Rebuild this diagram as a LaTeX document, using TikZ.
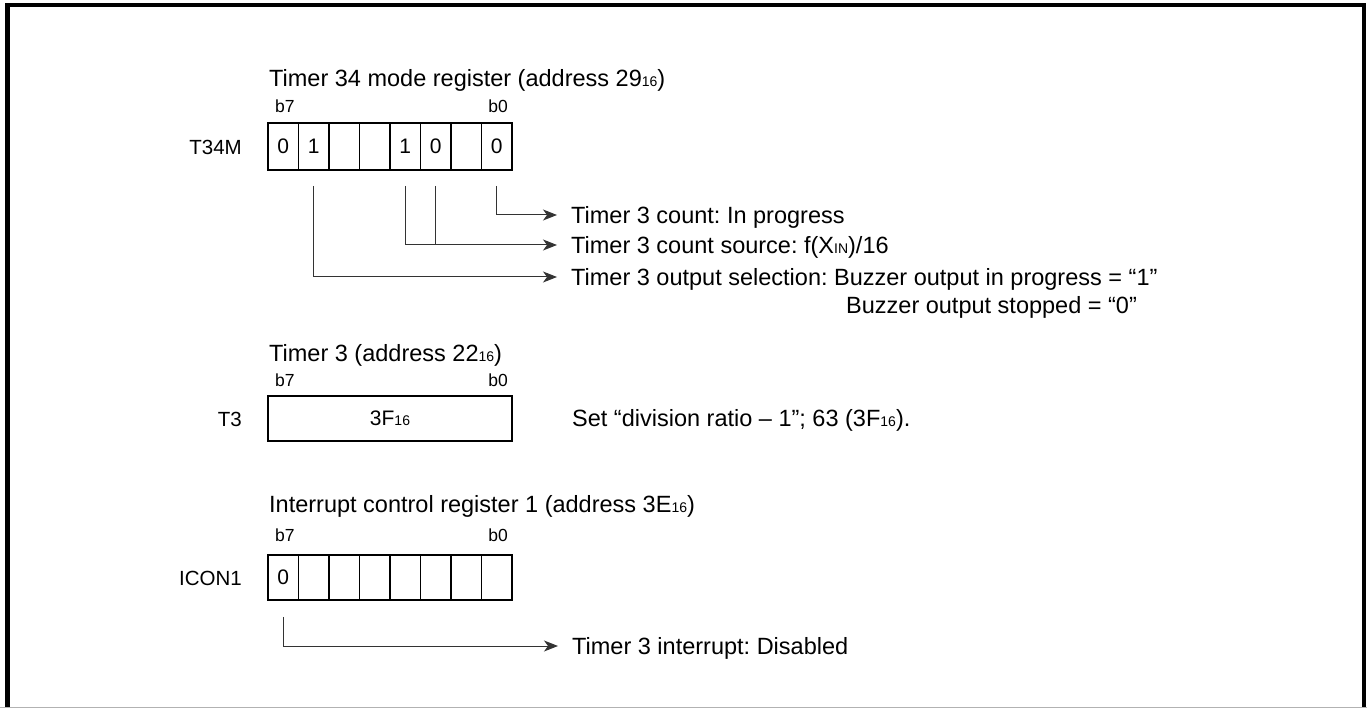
\documentclass[tikz,border=0pt]{standalone}
\usepackage{fontspec}
\setmainfont{Liberation Sans}
\usetikzlibrary{arrows.meta}

\newcommand{\hexsub}[1]{{\fontsize{14}{14}\selectfont #1}}

\tikzset{
  bit/.style={draw, line width=1.8pt, minimum width=30.5pt, minimum height=47pt,
    inner sep=0pt, font=\fontsize{21}{22}\selectfont},
  regname/.style={anchor=east, inner sep=0pt, font=\fontsize{20.5}{22}\selectfont},
  title/.style={anchor=base west, inner sep=0pt, font=\fontsize{23.5}{26}\selectfont},
  bitno/.style={inner sep=0pt, font=\fontsize{17.5}{18}\selectfont},
  desc/.style={anchor=west, inner sep=0pt, text depth=0pt, font=\fontsize{23.5}{26}\selectfont},
  lead/.style={->, line width=1pt, black!80, shorten >=14pt},
}

\begin{document}
\frenchspacing
\begin{tikzpicture}[x=1pt,y=-1pt,>={Stealth[length=14pt,width=11pt,inset=4pt]}]
\useasboundingbox (0,0) rectangle (1367,708);
\draw[line width=4.5pt] (7.5,708) -- (7.5,5) -- (1364,5) -- (1364,708);
\draw[black!30, line width=1pt] (0,707.5) -- (1367,707.5);

% Timer 34 mode register
\node[title] (t34mtitle) at (269,87) {Timer 34 mode register (address 29\hexsub{16})};
\node[bitno, anchor=base west] (t34mb7) at (275,113) {b7};
\node[bitno, anchor=base east] (t34mb0) at (508,113) {b0};
\node[regname] (t34mname) at (242,147) {T34M};
\foreach \v [count=\i from 0] in {0,1,{},{},1,0,{},0} {
  \pgfmathtruncatemacro\b{7-\i}
  \node[bit] (m\b) at ({283.25+30.5*\i},146.5) {\v};
}

\node[desc] (cnt) at (571,215) {Timer 3 count: In progress};
\node[desc] (src) at (571,245) {Timer 3 count source: f(X\hexsub{IN})/16};
\node[desc] (sel) at (571,277) {Timer 3 output selection: Buzzer output in progress = “1”};
\node[desc] (sel2) at (846,305) {Buzzer output stopped = “0”};

\draw[lead] ([yshift=-15pt]m0.south) |- (cnt.west);
\draw[lead] ([yshift=-15pt]m3.south) |- (src.west);
\draw[line width=1pt, black!80] ([yshift=-15pt]m2.south) -- (m2.south |- src.west);
\draw[lead] ([yshift=-15pt]m6.south) |- (sel.west);

% Timer 3
\node[title] (t3title) at (269,361) {Timer 3 (address 22\hexsub{16})};
\node[bitno, anchor=base west] (t3b7) at (275,386) {b7};
\node[bitno, anchor=base east] (t3b0) at (508,386) {b0};
\node[regname] (t3name) at (242,419) {T3};
\node[bit, minimum width=244pt, minimum height=45pt] (t3) at (390,418.5) {3F\hexsub{16}};
\node[desc] (setratio) at (572,418) {Set “division ratio – 1”; 63 (3F\hexsub{16}).};

% Interrupt control register 1
\node[title] (icontitle) at (269,512) {Interrupt control register 1 (address 3E\hexsub{16})};
\node[bitno, anchor=base west] (iconb7) at (275,541) {b7};
\node[bitno, anchor=base east] (iconb0) at (508,541) {b0};
\node[regname] (iconname) at (242,578) {ICON1};
\foreach \v [count=\i from 0] in {0,{},{},{},{},{},{},{}} {
  \pgfmathtruncatemacro\b{7-\i}
  \node[bit, minimum height=45pt] (c\b) at ({283.25+30.5*\i},577.5) {\v};
}

\node[desc] (irq) at (572,646) {Timer 3 interrupt: Disabled};
\draw[lead] ([yshift=-16pt]c7.south) |- (irq.west);
\end{tikzpicture}
\end{document}
